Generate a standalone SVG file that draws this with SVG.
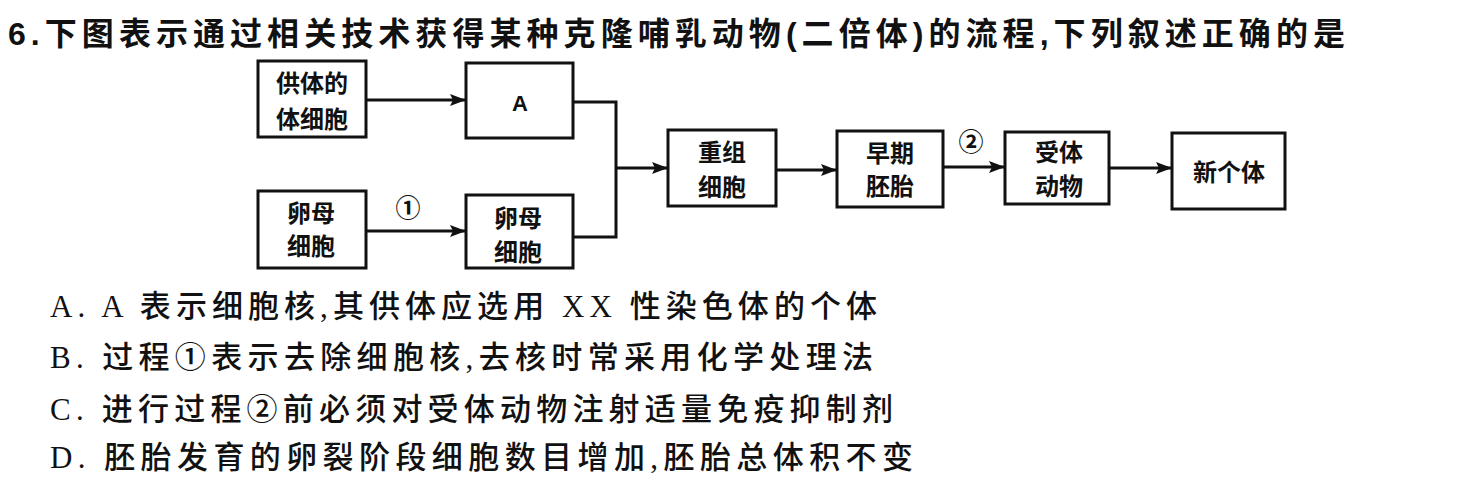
<svg xmlns="http://www.w3.org/2000/svg" width="1464" height="478" viewBox="0 0 1464 478">
<defs>
<marker id="arr" viewBox="0 0 16 12" refX="16" refY="6" markerWidth="16" markerHeight="12" markerUnits="userSpaceOnUse" orient="auto">
<path d="M0,0 L16,6 L0,12 L3,6 Z" fill="#111"/>
</marker>
</defs>
<style>
.box{fill:#fff;stroke:#111;stroke-width:3}
.bt{font-family:"Noto Sans CJK SC","Liberation Sans",sans-serif;font-size:24px;font-weight:bold;fill:#111;text-anchor:middle}
.lbl{font-family:"Noto Sans CJK SC","DejaVu Sans",sans-serif;font-size:25px;font-weight:bold;fill:#111;text-anchor:middle}
.ln{fill:none;stroke:#111;stroke-width:3}
.title{font-family:"Liberation Sans","Noto Sans CJK SC",sans-serif;font-size:32px;font-weight:bold;fill:#111}
.opt{font-family:"Liberation Serif","Noto Sans CJK SC",serif;font-size:31px;font-weight:500;fill:#111}
</style>
<rect width="1464" height="478" fill="#fff"/>
<text class="title" x="8" y="45" textLength="1337" lengthAdjust="spacing">6.下图表示通过相关技术获得某种克隆哺乳动物(二倍体)的流程,下列叙述正确的是</text>

<g id="connectors">
<line class="ln" x1="366" y1="100" x2="466" y2="100" marker-end="url(#arr)"/>
<line class="ln" x1="366" y1="231" x2="466" y2="231" marker-end="url(#arr)"/>
<polyline class="ln" points="573,102 616,102 616,237 573,237"/>
<line class="ln" x1="616" y1="168" x2="668" y2="168" marker-end="url(#arr)"/>
<line class="ln" x1="776" y1="170" x2="837" y2="170" marker-end="url(#arr)"/>
<line class="ln" x1="943" y1="167" x2="1005" y2="167" marker-end="url(#arr)"/>
<line class="ln" x1="1109" y1="168" x2="1172" y2="168" marker-end="url(#arr)"/>
<text class="lbl" x="408" y="217">①</text>
<text class="lbl" x="971" y="151">②</text>
</g>

<g id="node-donor">
<rect class="box" x="258" y="61" width="108" height="76"/>
<text class="bt" x="312" y="92">供体的</text>
<text class="bt" x="312" y="128">体细胞</text>
</g>
<g id="node-A">
<rect class="box" x="466" y="63" width="107" height="75"/>
<text class="bt" x="520" y="111" style="font-family:'Liberation Sans',sans-serif;font-size:22px">A</text>
</g>
<g id="node-oocyte1">
<rect class="box" x="258" y="191" width="108" height="77"/>
<text class="bt" x="311" y="222">卵母</text>
<text class="bt" x="311" y="255">细胞</text>
</g>
<g id="node-oocyte2">
<rect class="box" x="466" y="195" width="107" height="73"/>
<text class="bt" x="518" y="227">卵母</text>
<text class="bt" x="518" y="261">细胞</text>
</g>
<g id="node-recomb">
<rect class="box" x="668" y="130" width="108" height="76"/>
<text class="bt" x="722" y="161">重组</text>
<text class="bt" x="722" y="196">细胞</text>
</g>
<g id="node-embryo">
<rect class="box" x="837" y="131" width="106" height="76"/>
<text class="bt" x="890" y="162">早期</text>
<text class="bt" x="890" y="195">胚胎</text>
</g>
<g id="node-recipient">
<rect class="box" x="1005" y="132" width="104" height="72"/>
<text class="bt" x="1059" y="161">受体</text>
<text class="bt" x="1059" y="195">动物</text>
</g>
<g id="node-new">
<rect class="box" x="1172" y="133" width="113" height="76"/>
<text class="bt" x="1229" y="181">新个体</text>
</g>

<text class="opt" x="50" y="317" textLength="827" lengthAdjust="spacing">A. A 表示细胞核,其供体应选用 XX 性染色体的个体</text>
<text class="opt" x="50" y="368" textLength="823" lengthAdjust="spacing">B. 过程①表示去除细胞核,去核时常采用化学处理法</text>
<text class="opt" x="50" y="420" textLength="843" lengthAdjust="spacing">C. 进行过程②前必须对受体动物注射适量免疫抑制剂</text>
<text class="opt" x="50" y="468" textLength="863" lengthAdjust="spacing">D. 胚胎发育的卵裂阶段细胞数目增加,胚胎总体积不变</text>
</svg>
